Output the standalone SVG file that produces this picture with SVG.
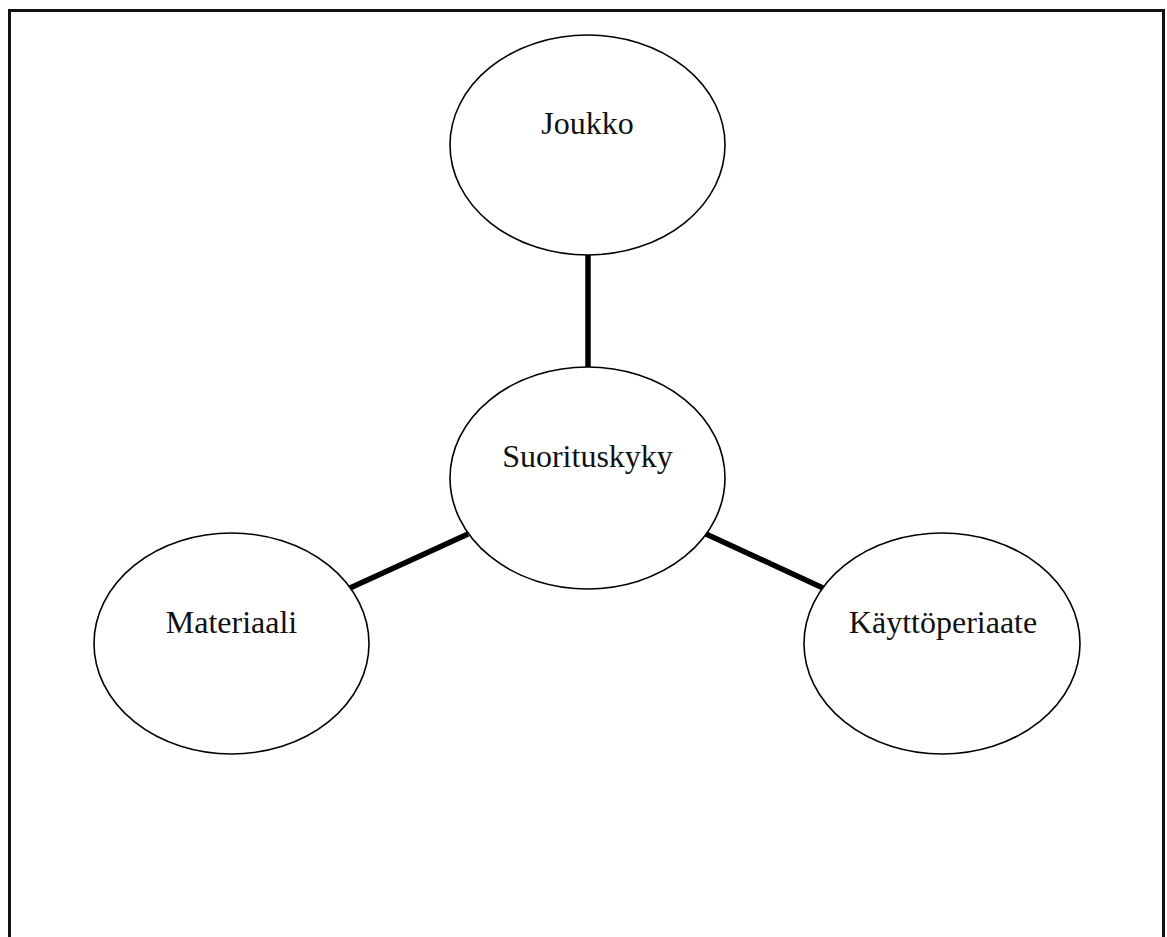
<svg xmlns="http://www.w3.org/2000/svg" width="1167" height="937" viewBox="0 0 1167 937">
<style>
.node ellipse{fill:#fff;stroke:#000;stroke-width:1.6}
.node text{font-family:"Liberation Serif","Times New Roman",serif;font-size:32px;fill:#111;text-anchor:middle}
.conn line{stroke:#000;stroke-width:5.5}
</style>
<rect x="0" y="0" width="1167" height="937" fill="#fff"/>
<rect x="9.5" y="10.5" width="1154" height="940" fill="none" stroke="#111" stroke-width="3"/>
<g id="connectors" class="conn">
<line x1="588" y1="255" x2="588" y2="367"/>
<line x1="468" y1="534" x2="350" y2="588"/>
<line x1="706" y1="534" x2="823" y2="588"/>
</g>
<g id="joukko" class="node">
<ellipse cx="587.5" cy="145" rx="137.5" ry="110"/>
<text x="587.5" y="134">Joukko</text>
</g>
<g id="suorituskyky" class="node">
<ellipse cx="587.5" cy="478" rx="137.5" ry="111"/>
<text x="587.5" y="467">Suorituskyky</text>
</g>
<g id="materiaali" class="node">
<ellipse cx="231.5" cy="643.5" rx="137.5" ry="110.5"/>
<text x="231.5" y="633">Materiaali</text>
</g>
<g id="kayttoperiaate" class="node">
<ellipse cx="942" cy="643.5" rx="138" ry="110.5"/>
<text x="943" y="633">Käyttöperiaate</text>
</g>
</svg>
